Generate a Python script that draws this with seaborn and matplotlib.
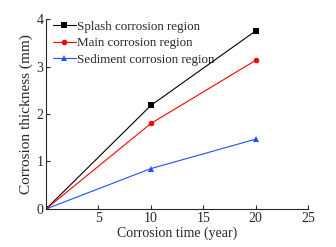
import matplotlib
matplotlib.use("Agg")
import matplotlib.pyplot as plt
import seaborn as sns
import pandas as pd

time = [0, 10, 20]
splash = [0, 2.18, 3.75]
main = [0, 1.80, 3.13]
sediment = [0, 0.85, 1.47]
labels = ["Splash corrosion region", "Main corrosion region", "Sediment corrosion region"]
x_ticks = [5, 10, 15, 20, 25]
y_ticks = [0, 1, 2, 3, 4]

sns.set_style("ticks")
plt.rcParams['font.family'] = ['Liberation Serif', 'DejaVu Serif']

df = pd.DataFrame({
    "time": time * 3,
    "value": splash + main + sediment,
    "region": [labels[0]] * 3 + [labels[1]] * 3 + [labels[2]] * 3,
})

fig = plt.figure(figsize=(3.36, 2.47), dpi=100)
ax = fig.add_axes([0.137, 0.154, 0.780, 0.769])
colors = ["black", "red", "#1f4fff"]
markers = ["s", "o", "^"]
msizes = [5, 4, 5]
for lab, c, m, ms in zip(labels, colors, markers, msizes):
    sub = df[df.region == lab]
    sns.lineplot(data=sub, x="time", y="value", ax=ax, color=c, marker=m,
                 markersize=ms, markeredgewidth=0, linewidth=0.8, label=lab)

ax.set_xlim(0, 25)
ax.set_ylim(0, 4)
ax.set_xticks(x_ticks)
ax.set_yticks(y_ticks)
ax.tick_params(direction='in', length=3, width=0.8, labelsize=10, pad=2)
ax.set_xlabel("Corrosion time (year)", fontsize=10, labelpad=1)
ax.set_ylabel("Corrosion thickness (mm)", fontsize=11, labelpad=2)
for s in ["top", "right"]:
    ax.spines[s].set_visible(False)
for s in ["left", "bottom"]:
    ax.spines[s].set_linewidth(0.8)
leg = ax.legend(loc="upper left", frameon=False, fontsize=9.4, handlelength=1.8,
                handletextpad=0.1, labelspacing=0.32, borderaxespad=0.1,
                bbox_to_anchor=(0.0, 1.025))
fig.savefig("out.png", dpi=100)
